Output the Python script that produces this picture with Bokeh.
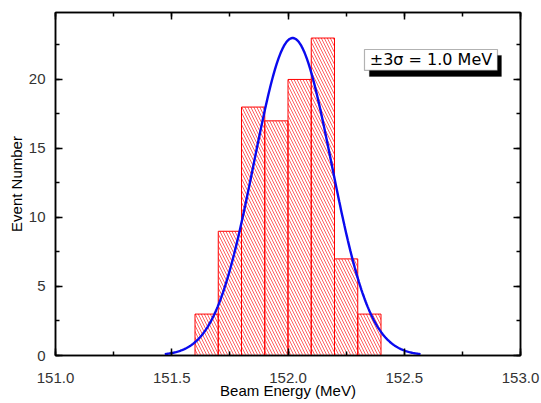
import numpy as np
from bokeh.plotting import figure
from bokeh.models import SingleIntervalTicker, LinearAxis, Label, BoxAnnotation, PrintfTickFormatter
from bokeh.embed import file_html
from bokeh.resources import INLINE

# Histogram data
bin_left = [151.6, 151.7, 151.8, 151.9, 152.0, 152.1, 152.2, 152.3]
bin_right = [151.7, 151.8, 151.9, 152.0, 152.1, 152.2, 152.3, 152.4]
counts = [3, 9, 18, 17, 20, 23, 7, 3]

# Gaussian fit parameters
fit_peak = 23.0
fit_mean = 152.02
fit_sigma = 1.0 / 6.0
fit_extent = 3.3

annotation_text = "\u00b13\u03c3 = 1.0 MeV"

FONT = "Liberation Sans"

p = figure(width=541, height=403, x_range=(151.0, 153.0), y_range=(0, 24.85),
           output_backend="svg", toolbar_location=None,
           min_border_left=55, min_border_right=21, min_border_top=12, min_border_bottom=48)
p.grid.visible = False
p.outline_line_color = "black"
p.outline_line_width = 1.5
p.background_fill_color = "white"

p.quad(left=bin_left, right=bin_right, top=counts, bottom=0,
       fill_color="white", fill_alpha=0.0, line_color="red", line_width=1,
       hatch_pattern="\\", hatch_color="#ff6060", hatch_scale=6, hatch_weight=1)

xs = np.linspace(fit_mean - fit_extent * fit_sigma, fit_mean + fit_extent * fit_sigma, 300)
ys = fit_peak * np.exp(-0.5 * ((xs - fit_mean) / fit_sigma) ** 2)
p.line(xs, ys, line_color="#0a0aee", line_width=2.4)

def style_axis(ax, show_labels):
    ax.axis_line_color = "black"
    ax.axis_line_width = 1.5
    ax.major_tick_in = 7
    ax.major_tick_out = 0
    ax.minor_tick_in = 4
    ax.minor_tick_out = 0
    ax.major_tick_line_width = 1.5
    ax.minor_tick_line_width = 1.5
    ax.major_label_text_font = FONT
    ax.major_label_text_font_size = "15px"
    ax.major_label_text_color = "#333333"
    if not show_labels:
        ax.major_label_text_alpha = 0
        ax.major_label_text_font_size = "1px"
        ax.major_label_standoff = 0

xt = SingleIntervalTicker(interval=0.5, num_minor_ticks=2)
yt = SingleIntervalTicker(interval=5, num_minor_ticks=2)
p.xaxis.ticker = xt
p.yaxis.ticker = yt
p.xaxis.formatter = PrintfTickFormatter(format="%.1f")
style_axis(p.xaxis[0], True)
style_axis(p.yaxis[0], True)
p.xaxis.axis_label = "Beam Energy (MeV)"
p.yaxis.axis_label = "Event Number"
for ax in (p.xaxis[0], p.yaxis[0]):
    ax.axis_label_text_font = FONT
    ax.axis_label_text_font_size = "15px"
    ax.axis_label_text_font_style = "normal"
    ax.axis_label_text_color = "black"
p.yaxis.axis_label_standoff = 1
p.xaxis.axis_label_standoff = -4
p.xaxis.major_label_standoff = 17
p.yaxis.major_label_standoff = 10

top_ax = LinearAxis(ticker=SingleIntervalTicker(interval=0.5, num_minor_ticks=2))
right_ax = LinearAxis(ticker=SingleIntervalTicker(interval=5, num_minor_ticks=2))
style_axis(top_ax, False)
style_axis(right_ax, False)
p.add_layout(top_ax, "above")
p.add_layout(right_ax, "right")

# annotation box with shadow
p.add_layout(BoxAnnotation(left=152.35, right=152.918, top=21.74, bottom=20.22,
                           fill_color="black", fill_alpha=1.0, line_color="black"))
p.add_layout(BoxAnnotation(left=152.329, right=152.901, top=22.17, bottom=20.65,
                           fill_color="white", fill_alpha=1.0, line_color="black", line_width=1.2))
p.add_layout(Label(x=152.615, y=21.41, text=annotation_text, text_align="center",
                   text_baseline="middle", text_font="DejaVu Sans", text_font_size="16px",
                   text_color="black"))

open("out.html", "w").write(file_html(p, INLINE))
